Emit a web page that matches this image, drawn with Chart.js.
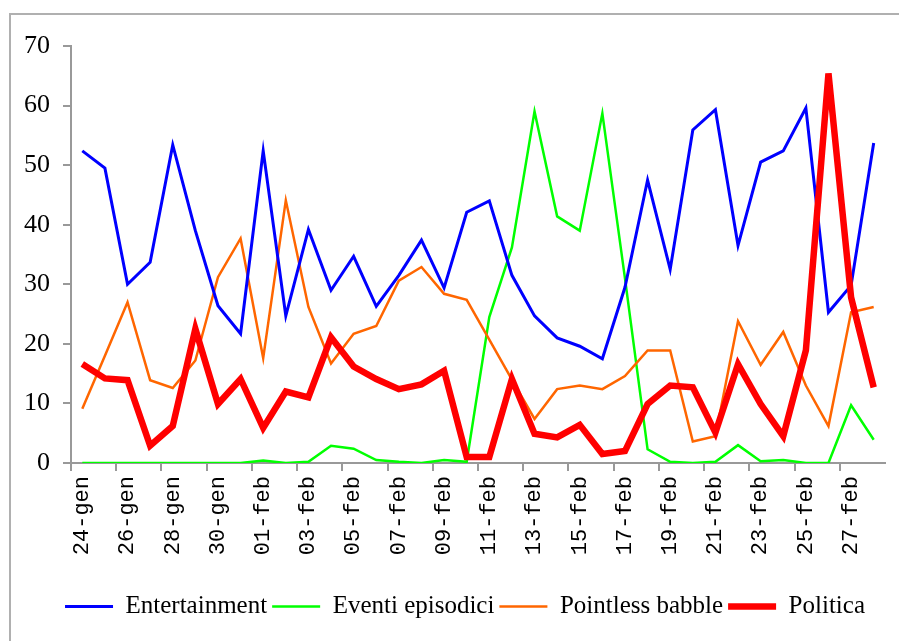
<!DOCTYPE html>
<html>
<head>
<meta charset="utf-8">
<script src="https://cdn.jsdelivr.net/npm/chart.js@4/dist/chart.umd.min.js"></script>
<style>
  html, body { margin: 0; padding: 0; background: #fff; overflow: hidden; }
  #frame {
    position: absolute; left: 9px; top: 13px;
    width: 910px; height: 640px;
    border: 2px solid #b0b0b0;
  }
</style>
</head>
<body>
<div id="frame"><canvas id="chart" width="910" height="640"></canvas></div>
<script>
// Days shown on the x axis
const days = [
  '24-gen', '25-gen', '26-gen', '27-gen', '28-gen', '29-gen', '30-gen', '31-gen',
  '01-feb', '02-feb', '03-feb', '04-feb', '05-feb', '06-feb', '07-feb', '08-feb',
  '09-feb', '10-feb', '11-feb', '12-feb', '13-feb', '14-feb', '15-feb', '16-feb',
  '17-feb', '18-feb', '19-feb', '20-feb', '21-feb', '22-feb', '23-feb', '24-feb',
  '25-feb', '26-feb', '27-feb', '28-feb'
];

const entertainment = [
  52.4, 49.5, 30, 33.7, 53.4, 39, 26.4, 21.7, 52.4, 24.7, 39.2, 29,
  34.7, 26.3, 31.5, 37.4, 29.4, 42.1, 44, 31.5, 24.7, 21, 19.6, 17.5,
  29.5, 47.5, 32.5, 55.9, 59.3, 36.5, 50.5, 52.4, 59.6, 25.3, 29.8, 53.7
];

const eventiEpisodici = [
  0, 0, 0, 0, 0, 0, 0, 0, 0.4, 0, 0.2, 2.9,
  2.4, 0.5, 0.2, 0, 0.5, 0.2, 24.5, 36.2, 59, 41.4, 39, 58.7,
  31, 2.3, 0.2, 0, 0.2, 3, 0.3, 0.5, 0, 0, 9.7, 3.9
];

const pointlessBabble = [
  9.1, 18, 27, 13.9, 12.6, 17.2, 31.2, 37.7, 17.6, 44.1, 26.2, 16.7,
  21.7, 23, 30.6, 32.9, 28.4, 27.4, 20.7, 14, 7.4, 12.4, 13, 12.4,
  14.6, 18.9, 18.9, 3.6, 4.5, 23.8, 16.5, 22, 13, 6.2, 25.3, 26.2
];

const politica = [
  16.6, 14.2, 13.9, 2.9, 6.2, 22.5, 9.9, 14.1, 5.9, 12, 11, 21.1,
  16.2, 14.1, 12.4, 13.2, 15.5, 1, 1, 14.1, 4.9, 4.3, 6.4, 1.5,
  2, 9.9, 13, 12.7, 5.1, 16.6, 9.9, 4.5, 18.9, 65.4, 27.8, 12.7
];

const yTicks = [0, 10, 20, 30, 40, 50, 60, 70];

const axisGrey = '#999999';

function lineSet(label, data, color, width, order) {
  return {
    label,
    data,
    borderColor: color,
    backgroundColor: color,
    borderWidth: width,
    pointRadius: 0,
    pointHoverRadius: 0,
    tension: 0,
    fill: false,
    order
  };
}

// the original legend sits a little right of the plot centre
const legendShift = {
  id: 'legendShift',
  afterLayout(chart) {
    chart.legend.left += 17;
    chart.legend.right += 17;
  }
};

new Chart(document.getElementById('chart'), {
  type: 'line',
  data: {
    labels: days,
    datasets: [
      lineSet('Entertainment', entertainment, '#0000ff', 3, 1),
      lineSet('Eventi episodici', eventiEpisodici, '#00ff00', 2.5, 3),
      lineSet('Pointless babble', pointlessBabble, '#ff6600', 2.5, 2),
      lineSet('Politica', politica, '#ff0000', 6.5, 0)
    ]
  },
  plugins: [legendShift],
  options: {
    responsive: false,
    animation: false,
    layout: { padding: { top: 31, left: 0, right: 36, bottom: 26 } },
    scales: {
      x: {
        offset: true,
        grid: {
          offset: true,
          drawOnChartArea: false,
          tickLength: 8,
          lineWidth: 2,
          color: (ctx) => (ctx.index % 2 === 0 ? axisGrey : 'rgba(0,0,0,0)')
        },
        border: { display: true, color: axisGrey, width: 2 },
        ticks: {
          autoSkip: false,
          minRotation: 90,
          maxRotation: 90,
          padding: 5,
          color: '#000',
          font: { family: 'Liberation Mono', size: 22 },
          callback: (value, index) => (index % 2 === 0 ? days[index] : '')
        },
        afterFit: (scale) => { scale.height = 126; }
      },
      y: {
        min: 0,
        max: 70,
        afterBuildTicks: (scale) => { scale.ticks = yTicks.map(v => ({ value: v })); },
        grid: {
          drawOnChartArea: false,
          tickLength: 8,
          lineWidth: 2,
          color: axisGrey
        },
        border: { display: true, color: axisGrey, width: 2 },
        ticks: {
          padding: 13,
          color: '#000',
          font: { family: 'Liberation Serif', size: 26 }
        },
        afterFit: (scale) => { scale.width = 60; }
      }
    },
    plugins: {
      tooltip: { enabled: false },
      legend: {
        position: 'bottom',
        labels: {
          usePointStyle: true,
          pointStyle: 'line',
          pointStyleWidth: 48,
          padding: 5,
          color: '#000',
          font: { family: 'Liberation Serif', size: 25 },
          sort: (a, b) => a.datasetIndex - b.datasetIndex
        }
      }
    }
  }
});
</script>
</body>
</html>
